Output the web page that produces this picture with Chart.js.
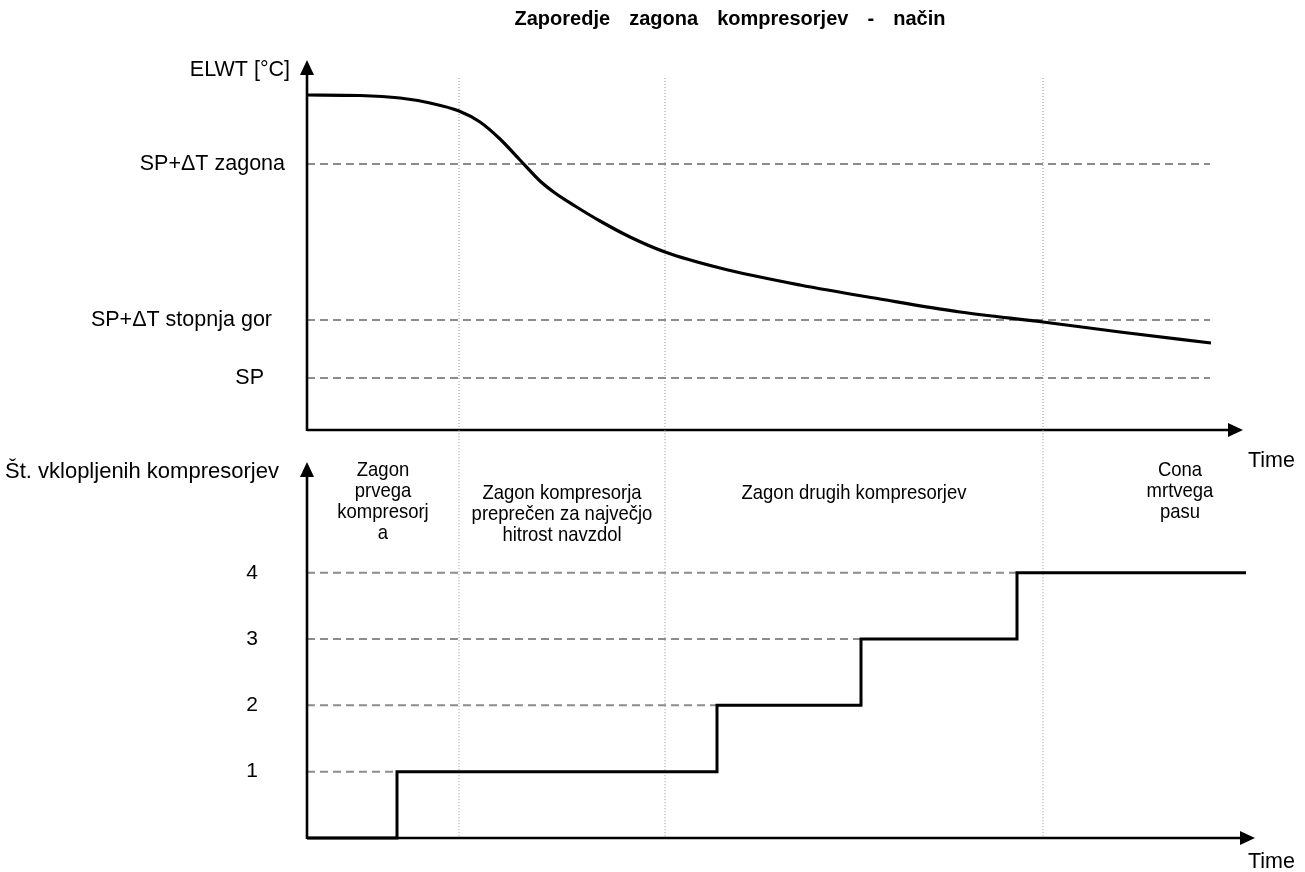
<!DOCTYPE html>
<html>
<head>
<meta charset="utf-8">
<script src="https://cdn.jsdelivr.net/npm/chart.js@4.4.0/dist/chart.umd.min.js"></script>
<style>
  body { margin: 0; background: #fff; }
  #wrap { position: relative; width: 1305px; height: 872px; }
  #wrap canvas { position: absolute; left: 0; top: 0; }
</style>
</head>
<body>
<div id="wrap">
  <canvas id="elwtChart" width="1305" height="872"></canvas>
  <canvas id="stepChart" width="1305" height="872"></canvas>
</div>
<script>
// --- data (time in arbitrary units) ---
const elwtTime  = [0, 5.3, 9.3, 12.3, 15.2, 17.3, 19.3, 21.3, 23.3, 24.8, 26.8, 29.3, 32.3, 35.8, 41.3, 49.3, 57.3, 65.3, 73.6, 81.3, 90.4];
const elwtValue = [33.5, 33.45, 33.2, 32.7, 31.9, 30.8, 29.1, 27.0, 24.9, 23.7, 22.4, 20.9, 19.3, 17.8, 16.2, 14.5, 13.1, 11.8, 10.8, 9.8, 8.7];

const thresholdLabels = ['SP+ΔT zagona', 'SP+ΔT stopnja gor', 'SP'];
const thresholdValues = [26.6, 11.0, 5.2];
const thresholdEnd = 90.3;

const stepTimes     = [0, 9.0, 41.0, 55.4, 71.0, 93.9];
const compressorsOn = [0, 1, 2, 3, 4, 4];
const levelTicks    = [1, 2, 3, 4];

const phaseEdges  = [15.2, 35.8, 73.6];
const phaseLabels = [
  ['Zagon', 'prvega', 'kompresorj', 'a'],
  ['Zagon kompresorja', 'preprečen za največjo', 'hitrost navzdol'],
  ['Zagon drugih kompresorjev'],
  ['Cona', 'mrtvega', 'pasu']
];

const titleText = 'Zaporedje  zagona  kompresorjev  -  način';

// --- styles ---
const FONT = '"Liberation Sans", Arial, sans-serif';
const dashGrey = '#8c8c8c';
const dotGrey = '#9a9a9a';
const labelRight = [285, 272, 264];
const phaseCenters = [7.6, 25.5, 54.7, 87.3];
const phaseTop = [470, 493, 493, 470];
const narrowFactor = 0.88;

function arrow(ctx, x1, y1, x2, y2) {
  const len = 15, half = 7;
  const ang = Math.atan2(y2 - y1, x2 - x1);
  const bx = x2 - len * Math.cos(ang), by = y2 - len * Math.sin(ang);
  ctx.beginPath();
  ctx.moveTo(x1, y1);
  ctx.lineTo(bx, by);
  ctx.stroke();
  ctx.beginPath();
  ctx.moveTo(x2, y2);
  ctx.lineTo(bx + half * Math.sin(ang), by - half * Math.cos(ang));
  ctx.lineTo(bx - half * Math.sin(ang), by + half * Math.cos(ang));
  ctx.closePath();
  ctx.fill();
}

// condensed text, since no narrow font is installed
function narrowText(ctx, txt, x, y) {
  ctx.save();
  ctx.translate(x, y);
  ctx.scale(narrowFactor, 1);
  ctx.fillText(txt, 0, 0);
  ctx.restore();
}

function line(data, color, width, dash) {
  return {
    data: data,
    borderColor: color,
    borderWidth: width,
    borderDash: dash || [],
    pointRadius: 0,
    fill: false,
    clip: false
  };
}

const baseOptions = {
  responsive: false,
  animation: false,
  events: [],
  plugins: { legend: { display: false }, tooltip: { enabled: false } }
};

// --- top chart: ELWT ---
const topDatasets = [
  Object.assign(line(elwtTime.map((t, i) => ({ x: t, y: elwtValue[i] })), '#000', 3.2), {
    cubicInterpolationMode: 'monotone'
  })
];
thresholdValues.forEach(v => {
  topDatasets.push(line([{ x: 0, y: v }, { x: thresholdEnd, y: v }], dashGrey, 2, [8, 5]));
});
phaseEdges.forEach(t => {
  topDatasets.push(line([{ x: t, y: 35.2 }, { x: t, y: 0 }], dotGrey, 1, [1, 2]));
});

const topDecor = {
  id: 'topDecor',
  afterDraw(chart) {
    const { ctx, chartArea: a, scales: { x, y } } = chart;
    ctx.save();
    ctx.strokeStyle = '#000';
    ctx.fillStyle = '#000';
    ctx.lineWidth = 2.6;
    arrow(ctx, a.left, a.bottom + 1, a.left, a.top);
    arrow(ctx, a.left, a.bottom, x.getPixelForValue(93.6), a.bottom);

    ctx.textBaseline = 'middle';
    ctx.font = '21.5px ' + FONT;
    ctx.textAlign = 'right';
    thresholdLabels.forEach((txt, i) => {
      ctx.fillText(txt, labelRight[i], y.getPixelForValue(thresholdValues[i]));
    });
    ctx.fillText('ELWT [°C]', 290, 70);
    ctx.textAlign = 'left';
    ctx.fillText('Time', 1248, 461);

    ctx.textAlign = 'center';
    ctx.font = 'bold 20px ' + FONT;
    ctx.wordSpacing = '4px';
    ctx.fillText(titleText, 730, 19);
    ctx.restore();
  }
};

new Chart(document.getElementById('elwtChart'), {
  type: 'line',
  data: { datasets: topDatasets },
  options: Object.assign({}, baseOptions, {
    layout: { padding: { left: 307, top: 60, right: 48, bottom: 442 } },
    scales: {
      x: { type: 'linear', min: 0, max: 95, display: false },
      y: { type: 'linear', min: 0, max: 37, display: false }
    }
  }),
  plugins: [topDecor]
});

// --- bottom chart: number of running compressors ---
const bottomDatasets = [
  Object.assign(line(stepTimes.map((t, i) => ({ x: t, y: compressorsOn[i] })), '#000', 3), {
    stepped: 'before'
  })
];
levelTicks.forEach(n => {
  bottomDatasets.push(line([{ x: 0, y: n }, { x: stepTimes[n], y: n }], dashGrey, 2, [8, 5]));
});
phaseEdges.forEach(t => {
  bottomDatasets.push(line([{ x: t, y: 6.15 }, { x: t, y: 0 }], dotGrey, 1, [1, 2]));
});

const bottomDecor = {
  id: 'bottomDecor',
  afterDraw(chart) {
    const { ctx, chartArea: a, scales: { x, y } } = chart;
    ctx.save();
    ctx.strokeStyle = '#000';
    ctx.fillStyle = '#000';
    ctx.lineWidth = 2.6;
    arrow(ctx, a.left, a.bottom + 1, a.left, a.top);
    arrow(ctx, a.left, a.bottom, x.getPixelForValue(94.8), a.bottom);

    ctx.textBaseline = 'middle';
    ctx.font = '21px ' + FONT;
    ctx.textAlign = 'center';
    levelTicks.forEach(n => ctx.fillText(String(n), 252, y.getPixelForValue(n)));
    ctx.textAlign = 'left';
    ctx.font = '22px ' + FONT;
    ctx.fillText('Št. vklopljenih kompresorjev', 5, 472);
    ctx.font = '21.5px ' + FONT;
    ctx.fillText('Time', 1248, 862);

    ctx.textAlign = 'center';
    ctx.font = '21px ' + FONT;
    phaseLabels.forEach((lines, i) => {
      const cx = x.getPixelForValue(phaseCenters[i]);
      lines.forEach((txt, j) => narrowText(ctx, txt, cx, phaseTop[i] + j * 21));
    });
    ctx.restore();
  }
};

new Chart(document.getElementById('stepChart'), {
  type: 'line',
  data: { datasets: bottomDatasets },
  options: Object.assign({}, baseOptions, {
    layout: { padding: { left: 307, top: 462, right: 48, bottom: 34 } },
    scales: {
      x: { type: 'linear', min: 0, max: 95, display: false },
      y: { type: 'linear', min: 0, max: 5.67, display: false }
    }
  }),
  plugins: [bottomDecor]
});
</script>
</body>
</html>
